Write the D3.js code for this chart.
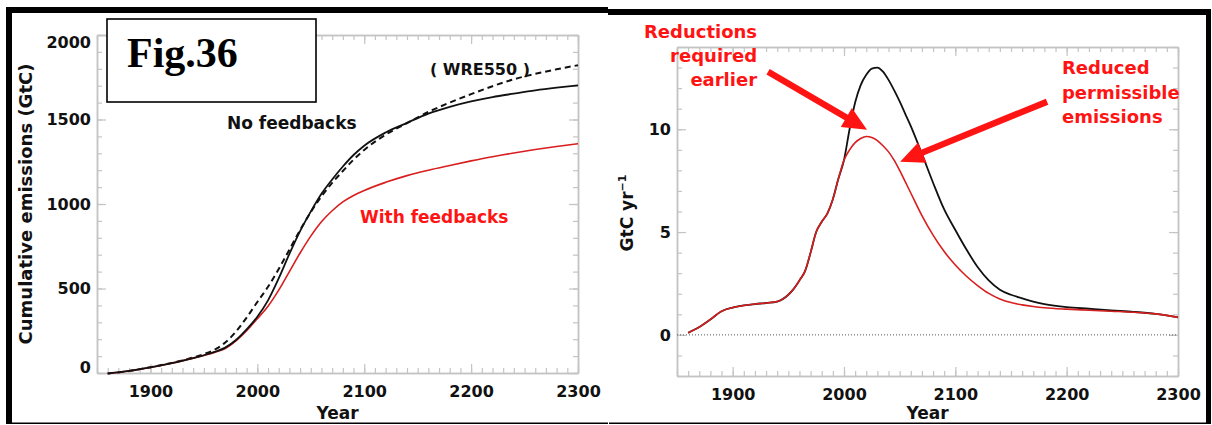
<!DOCTYPE html>
<html>
<head>
<meta charset="utf-8">
<script src="https://cdn.jsdelivr.net/npm/d3@7"></script>
<style>
  body { margin: 0; background: #fff; }
  .tick text, .lab { font-family: "DejaVu Sans", sans-serif; font-weight: bold; fill: #111; }
  .note { font-family: "DejaVu Sans", sans-serif; font-weight: bold; }
</style>
</head>
<body>
<script>
// ---- data ----
// left panel: cumulative emissions (GtC)
var cumYears = [1860, 1880, 1900, 1920, 1940, 1950, 1960, 1970, 1980, 1990, 2000, 2010, 2020, 2030, 2040, 2050, 2060, 2070, 2080, 2090, 2100, 2120, 2140, 2160, 2180, 2200, 2220, 2240, 2260, 2280, 2300];
var cumNoFeedback = [-3, 12, 33, 58, 88, 105, 125, 150, 195, 258, 333, 430, 560, 705, 840, 955, 1060, 1145, 1222, 1290, 1345, 1423, 1480, 1535, 1575, 1607, 1633, 1653, 1672, 1688, 1702];
var cumWRE550 = [-3, 12, 34, 60, 92, 112, 138, 180, 245, 328, 420, 510, 615, 730, 845, 952, 1045, 1125, 1195, 1262, 1320, 1410, 1478, 1545, 1600, 1650, 1697, 1738, 1770, 1797, 1821];
var cumWithFeedback = [-3, 12, 33, 58, 88, 104, 122, 145, 190, 250, 321, 395, 490, 600, 710, 810, 895, 960, 1012, 1050, 1080, 1128, 1168, 1200, 1228, 1255, 1280, 1302, 1322, 1340, 1357];

// right panel: emission rate (GtC/yr)
var rateYears = [1860, 1870, 1880, 1890, 1900, 1910, 1920, 1930, 1940, 1950, 1955, 1960, 1965, 1970, 1975, 1980, 1985, 1990, 1995, 2000, 2005, 2010, 2015, 2020, 2025, 2030, 2035, 2040, 2045, 2050, 2055, 2060, 2070, 2080, 2090, 2100, 2110, 2120, 2130, 2140, 2150, 2160, 2170, 2180, 2200, 2220, 2240, 2260, 2280, 2300];
var rateNoFeedback = [0.1, 0.38, 0.75, 1.15, 1.33, 1.43, 1.5, 1.55, 1.62, 1.95, 2.25, 2.65, 3.1, 4.0, 5.0, 5.5, 5.9, 6.6, 7.6, 8.5, 10.0, 11.3, 12.15, 12.65, 12.95, 13.0, 12.8, 12.4, 11.9, 11.35, 10.75, 10.15, 8.8, 7.4, 6.1, 5.1, 4.15, 3.3, 2.65, 2.2, 1.95, 1.78, 1.62, 1.5, 1.35, 1.27, 1.19, 1.12, 1.02, 0.85];
var rateWithFeedback = [0.1, 0.38, 0.75, 1.15, 1.33, 1.43, 1.5, 1.55, 1.62, 1.95, 2.25, 2.65, 3.1, 4.0, 5.0, 5.5, 5.9, 6.6, 7.6, 8.5, 9.0, 9.35, 9.55, 9.65, 9.6, 9.45, 9.2, 8.9, 8.5, 8.0, 7.45, 6.9, 5.8, 4.85, 4.05, 3.4, 2.85, 2.4, 2.02, 1.75, 1.57, 1.46, 1.38, 1.32, 1.25, 1.2, 1.15, 1.1, 1.02, 0.85];

// tick values
var yearLabels = [1900, 2000, 2100, 2200, 2300];
var cumLabels = [0, 500, 1000, 1500, 2000];
var rateLabels = [0, 5, 10];

var svg = d3.select("body").append("svg").attr("width", 1212).attr("height", 425);
svg.append("rect").attr("width", 1212).attr("height", 425).attr("fill", "#fff");

// ---- frame ----
svg.append("rect").attr("x", 6).attr("y", 7).attr("width", 602).attr("height", 6).attr("fill", "#000");
svg.append("rect").attr("x", 608).attr("y", 9).attr("width", 603).attr("height", 6).attr("fill", "#000");
svg.append("rect").attr("x", 6).attr("y", 7).attr("width", 6).attr("height", 417).attr("fill", "#000");
svg.append("rect").attr("x", 1206).attr("y", 9).attr("width", 5).attr("height", 415).attr("fill", "#000");
svg.append("rect").attr("x", 6).attr("y", 422.5).attr("width", 602).attr("height", 1.5).attr("fill", "#000");
svg.append("rect").attr("x", 609).attr("y", 422.5).attr("width", 602).attr("height", 1.5).attr("fill", "#000");

var axisColor = "#c4c4c4";

function boxAxes(g, x, y, yMinor, yMajor, yFirstLastShift) {
    var xMinor = d3.range(1850, 2301, 10);
    var bottom = y.range()[0], top = y.range()[1];
    var left = x.range()[0], right = x.range()[1];

    g.append("g").attr("transform", "translate(0," + bottom + ")")
        .call(d3.axisBottom(x).tickValues(xMinor).tickSize(-5).tickSizeOuter(0).tickFormat(""));
    g.append("g").attr("transform", "translate(0," + bottom + ")")
        .call(d3.axisBottom(x).tickValues(yearLabels).tickSize(-9).tickSizeOuter(0).tickPadding(13).tickFormat(d3.format("d")));
    g.append("g").attr("transform", "translate(0," + top + ")")
        .call(d3.axisTop(x).tickValues(xMinor).tickSize(-5).tickSizeOuter(0).tickFormat(""));
    g.append("g").attr("transform", "translate(0," + top + ")")
        .call(d3.axisTop(x).tickValues(yearLabels).tickSize(-9).tickSizeOuter(0).tickFormat(""));

    g.append("g").attr("transform", "translate(" + left + ",0)")
        .call(d3.axisLeft(y).tickValues(yMinor).tickSize(-5).tickSizeOuter(0).tickFormat(""));
    var yl = g.append("g").attr("transform", "translate(" + left + ",0)")
        .call(d3.axisLeft(y).tickValues(yMajor).tickSize(-9).tickSizeOuter(0).tickPadding(6).tickFormat(d3.format("d")));
    g.append("g").attr("transform", "translate(" + right + ",0)")
        .call(d3.axisRight(y).tickValues(yMinor).tickSize(-5).tickSizeOuter(0).tickFormat(""));
    g.append("g").attr("transform", "translate(" + right + ",0)")
        .call(d3.axisRight(y).tickValues(yMajor).tickSize(-9).tickSizeOuter(0).tickFormat(""));

    if (yFirstLastShift) {
        var n = yMajor.length;
        yl.selectAll(".tick text").attr("transform", function (d, i) {
            if (i === 0) return "translate(0,-6)";
            if (i === n - 1) return "translate(0,7)";
            return null;
        });
    }

    g.selectAll(".domain").attr("stroke", axisColor).attr("stroke-width", 1.5);
    g.selectAll(".tick line").attr("stroke", axisColor).attr("stroke-width", 1.2);
    g.selectAll(".tick text").attr("font-size", 16);
}

function drawLine(g, x, y, years, vals, color, width, dash) {
    var line = d3.line().x(function (d) { return x(d[0]); }).y(function (d) { return y(d[1]); })
        .curve(d3.curveMonotoneX);
    g.append("path").datum(d3.zip(years, vals)).attr("d", line)
        .attr("fill", "none").attr("stroke", color).attr("stroke-width", width)
        .attr("stroke-dasharray", dash || null);
}

function arrow(g, p0, p1, color) {
    // p0 start, p1 tip in pixels
    var dx = p1[0] - p0[0], dy = p1[1] - p0[1];
    var len = Math.sqrt(dx * dx + dy * dy);
    var ux = dx / len, uy = dy / len, nx = -uy, ny = ux;
    var w = 3.2, hl = 24, hw = 11;
    var bx = p1[0] - ux * hl, by = p1[1] - uy * hl;
    var pts = [
        [p0[0] + nx * w, p0[1] + ny * w],
        [bx + nx * w, by + ny * w],
        [bx + nx * hw, by + ny * hw],
        p1,
        [bx - nx * hw, by - ny * hw],
        [bx - nx * w, by - ny * w],
        [p0[0] - nx * w, p0[1] - ny * w]
    ];
    g.append("polygon").attr("points", pts.map(function (p) { return p.join(","); }).join(" "))
        .attr("fill", color);
}

var red = "#d81e1e";
var noteRed = "#ff1414";

// ---- left panel ----
var xL = d3.scaleLinear().domain([1850, 2300]).range([97, 578]);
var yL = d3.scaleLinear().domain([0, 2000]).range([373, 35]);
var gL = svg.append("g");
boxAxes(gL, xL, yL, d3.range(0, 2001, 100), cumLabels, true);

drawLine(gL, xL, yL, cumYears, cumWRE550, "#111", 2, "6,4");
drawLine(gL, xL, yL, cumYears, cumWithFeedback, red, 1.6);
drawLine(gL, xL, yL, cumYears, cumNoFeedback, "#111", 1.8);

gL.append("text").attr("class", "lab").attr("font-size", 18).attr("text-anchor", "middle")
    .attr("transform", "translate(32,204) rotate(-90)").text("Cumulative emissions (GtC)");
gL.append("text").attr("class", "lab").attr("font-size", 17).attr("text-anchor", "middle")
    .attr("x", (xL.range()[0] + xL.range()[1]) / 2).attr("y", 419).text("Year");

gL.append("text").attr("class", "lab").attr("font-size", 17)
    .attr("x", xL(1971.6)).attr("y", yL(1444)).text("No feedbacks");
gL.append("text").attr("class", "lab").attr("font-size", 16)
    .attr("x", xL(2161.5)).attr("y", yL(1762)).text("( WRE550 )");
gL.append("text").attr("class", "note").attr("font-size", 17).attr("fill", noteRed)
    .attr("x", xL(2096)).attr("y", yL(888)).text("With feedbacks");

// figure tag box
gL.append("rect").attr("x", 107).attr("y", 19).attr("width", 209).attr("height", 83)
    .attr("fill", "#fff").attr("stroke", "#000").attr("stroke-width", 1.6);
gL.append("text").attr("x", 127).attr("y", 67)
    .attr("font-family", "Liberation Serif, serif").attr("font-weight", "bold").attr("font-size", 42)
    .attr("fill", "#000").text("Fig.36");

// ---- right panel ----
var xR = d3.scaleLinear().domain([1850, 2300]).range([677, 1178]);
var yR = d3.scaleLinear().domain([-2, 14]).range([376, 47]);
var gR = svg.append("g");
boxAxes(gR, xR, yR, d3.range(-2, 15, 1), rateLabels, false);

gR.append("line").attr("x1", xR(1850)).attr("x2", xR(2300)).attr("y1", yR(0)).attr("y2", yR(0))
    .attr("stroke", "#555").attr("stroke-width", 1).attr("stroke-dasharray", "1,2");

drawLine(gR, xR, yR, rateYears, rateNoFeedback, "#111", 1.8);
drawLine(gR, xR, yR, rateYears, rateWithFeedback, red, 1.6);

var yt = gR.append("text").attr("class", "lab").attr("font-size", 17).attr("text-anchor", "middle")
    .attr("transform", "translate(633,213) rotate(-90)");
yt.append("tspan").text("GtC yr");
yt.append("tspan").attr("font-size", 11).attr("dy", -7).text("−1");
gR.append("text").attr("class", "lab").attr("font-size", 17).attr("text-anchor", "middle")
    .attr("x", (xR.range()[0] + xR.range()[1]) / 2).attr("y", 419).text("Year");

// annotations
var n1 = gR.append("text").attr("class", "note").attr("font-size", 18).attr("fill", noteRed)
    .attr("text-anchor", "end");
["Reductions", "required", "earlier"].forEach(function (s, i) {
    n1.append("tspan").attr("x", xR(1921.9)).attr("y", yR(14.43) + i * 24).text(s);
});
var n2 = gR.append("text").attr("class", "note").attr("font-size", 18).attr("fill", noteRed);
["Reduced", "permissible", "emissions"].forEach(function (s, i) {
    n2.append("tspan").attr("x", xR(2195.8)).attr("y", yR(12.68) + i * 24.5).text(s);
});

arrow(gR, [xR(1931.8), yR(12.8)], [xR(2020.7), yR(9.98)], noteRed);
arrow(gR, [xR(2182.4), yR(11.34)], [xR(2050.4), yR(8.42)], noteRed);
</script>
</body>
</html>
